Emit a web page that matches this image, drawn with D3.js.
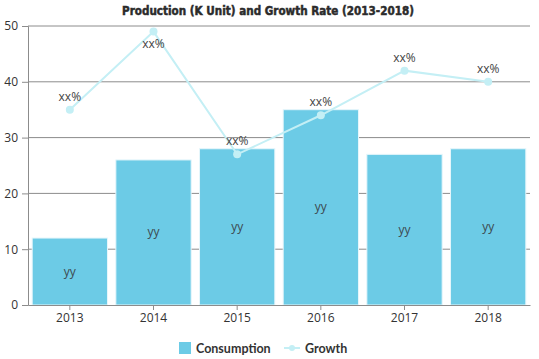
<!DOCTYPE html>
<html>
<head>
<meta charset="utf-8">
<script src="https://cdn.jsdelivr.net/npm/d3@7"></script>
<style>
  body { margin: 0; background: #fff; }
  svg { display: block; }
</style>
</head>
<body>
<script>
// chart values
var years = ['2013', '2014', '2015', '2016', '2017', '2018'];
var consumption = [12, 26, 28, 35, 27, 28];
var growth = [35, 49, 27, 34, 42, 40];
var barLabels = ['yy', 'yy', 'yy', 'yy', 'yy', 'yy'];
var growthLabels = ['xx%', 'xx%', 'xx%', 'xx%', 'xx%', 'xx%'];
var yTicks = [0, 10, 20, 30, 40, 50];

var width = 539, height = 359;
var margin = {top: 26, right: 9, bottom: 54, left: 28};

var svg = d3.select('body').append('svg')
    .attr('width', width)
    .attr('height', height);

var x = d3.scaleBand()
    .domain(years)
    .range([margin.left, width - margin.right])
    .paddingInner(0.1)
    .paddingOuter(0.05);

var y = d3.scaleLinear()
    .domain([0, 50])
    .range([height - margin.bottom, margin.top]);

// title (heavy condensed look, thickened with a thin stroke)
svg.append('text')
    .attr('x', 268)
    .attr('y', 15)
    .attr('text-anchor', 'middle')
    .attr('textLength', 292)
    .attr('lengthAdjust', 'spacingAndGlyphs')
    .style('font-family', '"DejaVu Sans Condensed", "Liberation Sans Narrow", sans-serif')
    .style('font-weight', 'bold')
    .style('font-size', '13px')
    .style('fill', '#2b2b2b')
    .style('stroke', '#2b2b2b')
    .style('stroke-width', 0.5)
    .text('Production (K Unit) and Growth Rate (2013-2018)');

// grid lines
svg.append('g')
    .selectAll('line')
    .data(yTicks.slice(1))
    .enter().append('line')
        .attr('x1', margin.left)
        .attr('x2', width - margin.right)
        .attr('y1', function(d) { return y(d); })
        .attr('y2', function(d) { return y(d); })
        .style('stroke', '#8c8c8c')
        .style('stroke-width', 1);

// y axis
var yAxis = svg.append('g')
    .attr('transform', 'translate(' + margin.left + ',0)')
    .call(d3.axisLeft(y).tickValues(yTicks).tickSize(6).tickPadding(4));
yAxis.select('.domain').style('stroke', '#8c8c8c');
yAxis.selectAll('.tick line').style('stroke', '#8c8c8c');
yAxis.selectAll('text')
    .style('font-family', '"Open Sans", sans-serif')
    .style('font-size', '12px')
    .style('fill', '#333');

// bars
svg.append('g')
    .selectAll('rect')
    .data(consumption)
    .enter().append('rect')
        .attr('x', function(d, i) { return x(years[i]); })
        .attr('y', function(d) { return y(d); })
        .attr('width', x.bandwidth())
        .attr('height', function(d) { return y(0) - y(d); })
        .style('fill', '#6ccbe6')
        .style('stroke', '#e6f6fb')
        .style('stroke-width', 1);

// bar labels
svg.append('g')
    .selectAll('text')
    .data(consumption)
    .enter().append('text')
        .attr('x', function(d, i) { return x(years[i]) + x.bandwidth() / 2; })
        .attr('y', function(d) { return (y(d) + y(0)) / 2 + 4; })
        .attr('text-anchor', 'middle')
        .style('font-family', '"Open Sans", sans-serif')
        .style('font-size', '12px')
        .style('fill', '#3d4a50')
        .text(function(d, i) { return barLabels[i]; });

// x axis
var xAxis = svg.append('g')
    .attr('transform', 'translate(0,' + y(0) + ')')
    .call(d3.axisBottom(x).tickSize(5).tickPadding(3).tickSizeOuter(0));
xAxis.select('.domain').style('stroke', '#8c8c8c');
xAxis.selectAll('.tick line').style('stroke', '#8c8c8c');
xAxis.selectAll('text')
    .style('font-family', '"Open Sans", sans-serif')
    .style('font-size', '12px')
    .style('fill', '#333');

// growth line
var cx = function(d, i) { return x(years[i]) + x.bandwidth() / 2; };
var line = d3.line()
    .x(cx)
    .y(function(d) { return y(d); });

svg.append('path')
    .datum(growth)
    .attr('d', line)
    .style('fill', 'none')
    .style('stroke', '#c4eff5')
    .style('stroke-width', 2);

svg.append('g')
    .selectAll('circle')
    .data(growth)
    .enter().append('circle')
        .attr('cx', cx)
        .attr('cy', function(d) { return y(d); })
        .attr('r', 4)
        .style('fill', '#c4eff5');

// labels go above the point, or below it when there is no room at the top
svg.append('g')
    .selectAll('text')
    .data(growth)
    .enter().append('text')
        .attr('x', cx)
        .attr('y', function(d) {
            var py = y(d);
            return (py - 20 < margin.top) ? py + 16 : py - 9;
        })
        .attr('text-anchor', 'middle')
        .style('font-family', '"Open Sans", sans-serif')
        .style('font-size', '12px')
        .style('fill', '#444')
        .text(function(d, i) { return growthLabels[i]; });

// legend
var legend = svg.append('g')
    .attr('transform', 'translate(0,' + (height - 10) + ')');
legend.append('rect')
    .attr('x', 179).attr('y', -7)
    .attr('width', 12).attr('height', 12)
    .style('fill', '#6ccbe6');
legend.append('text')
    .attr('x', 196).attr('y', 4)
    .style('font-family', 'Lato, sans-serif')
    .style('font-weight', 'bold')
    .style('font-size', '12.5px')
    .style('fill', '#333')
    .text('Consumption');
legend.append('line')
    .attr('x1', 284).attr('x2', 300)
    .attr('y1', -1).attr('y2', -1)
    .style('stroke', '#c4eff5')
    .style('stroke-width', 2);
legend.append('circle')
    .attr('cx', 292).attr('cy', -1).attr('r', 3)
    .style('fill', '#c4eff5');
legend.append('text')
    .attr('x', 305).attr('y', 4)
    .style('font-family', 'Lato, sans-serif')
    .style('font-weight', 'bold')
    .style('font-size', '12.5px')
    .style('fill', '#333')
    .text('Growth');
</script>
</body>
</html>
